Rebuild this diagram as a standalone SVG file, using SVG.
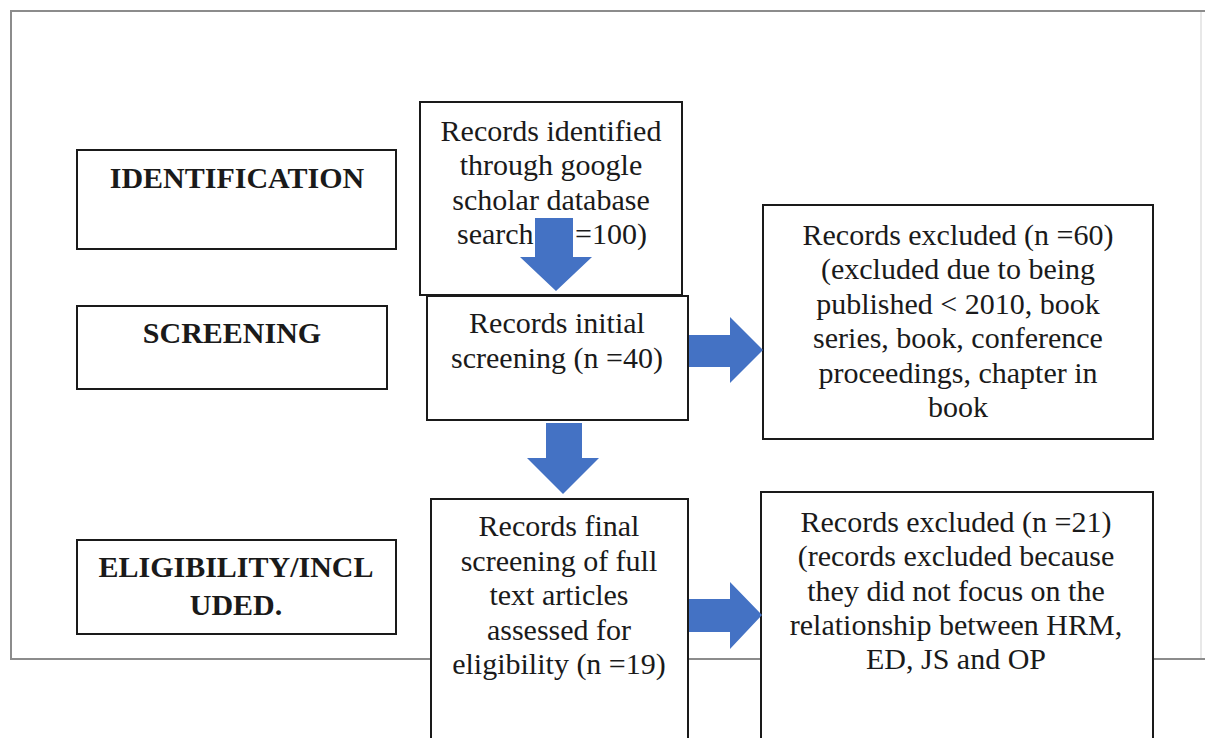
<svg xmlns="http://www.w3.org/2000/svg" width="1205" height="738" viewBox="0 0 1205 738">
<style>
.box{fill:#fff;stroke:#1a1a1a;stroke-width:2}
.t{font-family:"Liberation Serif","Times New Roman",serif;font-size:30px;fill:#1a1a1a;text-anchor:middle}
.b{font-weight:bold}
.arrow{fill:#4472c4}
.frame{fill:none;stroke:#8c8c8c;stroke-width:2}
</style>
<rect width="1205" height="738" fill="#fff"/>
<g id="frame">
<path class="frame" d="M1205 11 H11 V659 H1205"/>
<path d="M1201 12 V658" stroke="#e0e0e0" stroke-width="1.5"/>
</g>
<g id="label-identification">
<rect class="box" x="77" y="150" width="319" height="99"/>
<text class="t b" x="237" y="188">IDENTIFICATION</text>
</g>
<g id="label-screening">
<rect class="box" x="77" y="306" width="310" height="83"/>
<text class="t b" x="232" y="343">SCREENING</text>
</g>
<g id="label-eligibility">
<rect class="box" x="77" y="540" width="319" height="94"/>
<text class="t b" x="236" y="577">ELIGIBILITY/INCL</text>
<text class="t b" x="236" y="615">UDED.</text>
</g>
<g id="records-identified">
<rect class="box" x="420" y="102" width="262" height="193"/>
<text class="t" x="551" y="141">Records identified</text>
<text class="t" x="551" y="175">through google</text>
<text class="t" x="551" y="210">scholar database</text>
<text class="t" y="244" style="text-anchor:start"><tspan x="457">search</tspan><tspan x="538">(n </tspan><tspan x="575">=100)</tspan></text>
</g>
<g id="records-initial">
<rect class="box" x="427" y="296" width="261" height="124"/>
<text class="t" x="557" y="333">Records initial</text>
<text class="t" x="557" y="368">screening (n =40)</text>
</g>
<g id="excluded-60">
<rect class="box" x="763" y="205" width="390" height="234"/>
<text class="t" x="958" y="245">Records excluded (n =60)</text>
<text class="t" x="958" y="279">(excluded due to being</text>
<text class="t" x="958" y="314">published &lt; 2010, book</text>
<text class="t" x="958" y="348">series, book, conference</text>
<text class="t" x="958" y="383">proceedings, chapter in</text>
<text class="t" x="958" y="417">book</text>
</g>
<g id="records-final">
<rect class="box" x="431" y="499" width="257" height="250"/>
<text class="t" x="559" y="536">Records final</text>
<text class="t" x="559" y="571">screening of full</text>
<text class="t" x="559" y="605">text articles</text>
<text class="t" x="559" y="640">assessed for</text>
<text class="t" x="559" y="674">eligibility (n =19)</text>
</g>
<g id="excluded-21">
<rect class="box" x="761" y="492" width="392" height="257"/>
<text class="t" x="956" y="532">Records excluded (n =21)</text>
<text class="t" x="956" y="566">(records excluded because</text>
<text class="t" x="956" y="601">they did not focus on the</text>
<text class="t" x="956" y="635">relationship between HRM,</text>
<text class="t" x="956" y="669">ED, JS and OP</text>
</g>
<g id="connectors">
<polygon class="arrow" points="535,218 573,218 573,257 592,257 556,291 520,257 535,257"/>
<polygon class="arrow" points="689,335 730,335 730,317 763,350 730,383 730,367 689,367"/>
<polygon class="arrow" points="546,423 582,423 582,458 599,458 563,494 527,458 546,458"/>
<polygon class="arrow" points="689,599 730,599 730,582 762,615 730,649 730,632 689,632"/>
</g>
</svg>
